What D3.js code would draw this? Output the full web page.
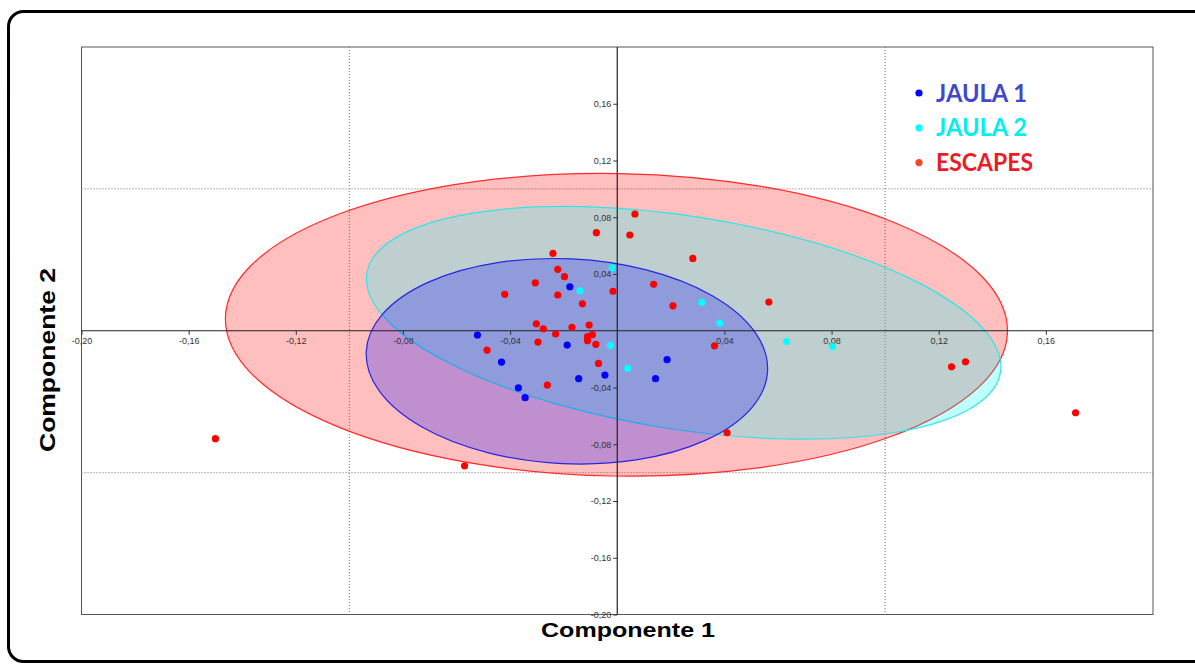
<!DOCTYPE html>
<html>
<head>
<meta charset="utf-8">
<script src="https://cdnjs.cloudflare.com/ajax/libs/d3/7.8.5/d3.min.js"></script>
<style>
body{margin:0;background:#fff;}
</style>
</head>
<body>
<script>
//dims
const width = 1195, height = 664;

//tick values, same on both axes (0 and 0.20 are not labelled)
const tickValues = [-0.20, -0.16, -0.12, -0.08, -0.04, 0.04, 0.08, 0.12, 0.16];
const gridValues = [-0.10, 0.10];

//scores per group: [componente 1, componente 2]
const jaula1 = [
	[-0.0177, 0.0310], [-0.0522, -0.0030], [-0.0187, -0.0101], [-0.0432, -0.0221], [0.0186, -0.0204],
	[-0.0046, -0.0312], [-0.0144, -0.0338], [0.0143, -0.0338], [-0.0369, -0.0402], [-0.0344, -0.0472]
];
const jaula2 = [
	[-0.0019, 0.0444], [-0.0139, 0.0282], [0.0316, 0.0200], [0.0383, 0.0054],
	[0.0632, -0.0076], [-0.0025, -0.0103], [0.0039, -0.0265], [0.0804, -0.0113]
];
const escapes = [
	[0.0066, 0.0823], [-0.0078, 0.0691], [0.0047, 0.0675], [-0.0240, 0.0546], [0.0282, 0.0510],
	[-0.0222, 0.0433], [-0.0197, 0.0381], [-0.0306, 0.0338], [0.0136, 0.0327], [-0.0420, 0.0257],
	[-0.0222, 0.0252], [-0.0016, 0.0278], [-0.0130, 0.0190], [0.0208, 0.0176], [0.0566, 0.0202],
	[-0.0302, 0.0049], [-0.0276, 0.0014], [-0.0169, 0.0024], [-0.0105, 0.0040], [-0.0230, -0.0023],
	[-0.0093, -0.0028], [-0.0111, -0.0042], [-0.0111, -0.0070], [-0.0080, -0.0096], [-0.0296, -0.0080],
	[-0.0486, -0.0136], [-0.0070, -0.0230], [0.0363, -0.0106], [-0.0261, -0.0383], [0.0410, -0.0719],
	[0.1248, -0.0254], [0.1300, -0.0219], [0.1711, -0.0578], [-0.1500, -0.0761], [-0.0570, -0.0952]
];

//legend labels
const groupNames = ['JAULA 1', 'JAULA 2', 'ESCAPES'];

//confidence ellipses: [centre c1, centre c2, radius c1, radius c2, tilt in degrees]
const ellipseEscapes = [-0.0003, 0.0042, 0.1460, 0.1066, 1.0];
const ellipseJaula2  = [0.0248, 0.0056, 0.1197, 0.0752, 8.85];
const ellipseJaula1  = [-0.0188, -0.0215, 0.0750, 0.0722, 2.75];

// comma decimals, plain hyphen minus
const fmt = d3.formatLocale({decimal: ',', thousands: '.', grouping: [3], currency: ['', ''], minus: '-'}).format('.2f');

const svg = d3.select('body')
	.append('svg')
		.attr('width', width)
		.attr('height', height);
//bkg
svg.append('rect')
		.attr('width', width)
		.attr('height', height)
		.attr('fill', '#fff');
//rounded outer frame, right side runs off the picture
svg.append('rect')
		.attr('x', 8.5)
		.attr('y', 11.5)
		.attr('width', 1200)
		.attr('height', 650)
		.attr('rx', 15)
		.attr('ry', 15)
		.attr('fill', 'none')
		.attr('stroke', '#000')
		.attr('stroke-width', 3);

//scales
const x = d3.scaleLinear().domain([-0.2, 0.2]).range([81.5, 1153]);
const y = d3.scaleLinear().domain([-0.2, 0.2]).range([614.5, 47]);

//plot box
svg.append('rect')
		.attr('x', x(-0.2))
		.attr('y', y(0.2))
		.attr('width', x(0.2) - x(-0.2))
		.attr('height', y(-0.2) - y(0.2))
		.attr('fill', 'none')
		.attr('stroke', '#555')
		.attr('stroke-width', 1);

//dotted grid
const grid = svg.append('g')
		.attr('stroke', '#888')
		.attr('stroke-width', 1.2)
		.attr('stroke-dasharray', '1,2');
grid.selectAll('.gx')
		.data(gridValues)
	.enter().append('line')
		.attr('x1', d => x(d)).attr('x2', d => x(d))
		.attr('y1', y(0.2)).attr('y2', y(-0.2));
grid.selectAll('.gy')
		.data(gridValues)
	.enter().append('line')
		.attr('y1', d => y(d)).attr('y2', d => y(d))
		.attr('x1', x(-0.2)).attr('x2', x(0.2));

//ellipses, drawn back to front
const ellipseData = [
	{p: ellipseEscapes, fill: 'rgba(255,0,0,0.25)', stroke: '#ff2a2a'},
	{p: ellipseJaula2,  fill: 'rgba(0,255,255,0.25)', stroke: '#2ee6e6'},
	{p: ellipseJaula1,  fill: 'rgba(0,0,255,0.25)', stroke: '#2626e0'}
];
svg.selectAll('.ellipse')
		.data(ellipseData)
	.enter().append('ellipse')
		.attr('cx', d => x(d.p[0]))
		.attr('cy', d => y(d.p[1]))
		.attr('rx', d => x(d.p[2]) - x(0))
		.attr('ry', d => y(0) - y(d.p[3]))
		.attr('transform', d => `rotate(${d.p[4]},${x(d.p[0])},${y(d.p[1])})`)
		.attr('fill', d => d.fill)
		.attr('stroke', d => d.stroke)
		.attr('stroke-width', 1.2);

//axis lines through the origin
svg.append('line')
		.attr('x1', x(-0.2)).attr('x2', x(0.2))
		.attr('y1', y(0)).attr('y2', y(0))
		.attr('stroke', '#222').attr('stroke-width', 1.2);
svg.append('line')
		.attr('x1', x(0)).attr('x2', x(0))
		.attr('y1', y(0.2)).attr('y2', y(-0.2))
		.attr('stroke', '#222').attr('stroke-width', 1.2);

//ticks + labels
svg.append('g')
		.attr('transform', `translate(0,${y(0)})`)
		.call(d3.axisBottom(x).tickValues(tickValues).tickSize(4).tickPadding(3).tickFormat(fmt))
		.call(g => g.select('.domain').remove())
		.attr('color', '#333')
		.attr('font-family', 'Arial, "Liberation Sans", sans-serif')
		.attr('font-size', 9);
svg.append('g')
		.attr('transform', `translate(${x(0)},0)`)
		.call(d3.axisLeft(y).tickValues(tickValues).tickSize(4).tickPadding(2).tickFormat(fmt))
		.call(g => g.select('.domain').remove())
		.attr('color', '#333')
		.attr('font-family', 'Arial, "Liberation Sans", sans-serif')
		.attr('font-size', 9);

//points
const groups = [
	{data: escapes, color: '#ff0000'},
	{data: jaula1, color: '#0000ff'},
	{data: jaula2, color: '#00ffff'}
];
groups.forEach(grp => {
	svg.append('g').selectAll('circle')
			.data(grp.data)
		.enter().append('circle')
			.attr('cx', d => x(d[0]))
			.attr('cy', d => y(d[1]))
			.attr('r', 3.6)
			.attr('fill', grp.color);
});

//axis titles
svg.append('text')
		.attr('x', 628)
		.attr('y', 637)
		.attr('text-anchor', 'middle')
		.attr('font-family', 'Arial, "Liberation Sans", sans-serif')
		.attr('font-weight', 'bold')
		.attr('font-size', 21)
		.attr('textLength', 174)
		.attr('lengthAdjust', 'spacingAndGlyphs')
		.text('Componente 1');
svg.append('text')
		.attr('transform', 'translate(55,360) rotate(-90)')
		.attr('text-anchor', 'middle')
		.attr('font-family', 'Arial, "Liberation Sans", sans-serif')
		.attr('font-weight', 'bold')
		.attr('font-size', 22)
		.attr('textLength', 184)
		.attr('lengthAdjust', 'spacingAndGlyphs')
		.text('Componente 2');

//legend
const legendDot = ['#0000ff', '#00ffff', '#f04923'];
const legendText = ['#3f48cc', '#00f0f0', '#ed1c24'];
const legendLen = [91, 91, 97];
const legend = svg.append('g');
legend.selectAll('circle')
		.data(groupNames)
	.enter().append('circle')
		.attr('cx', 919)
		.attr('cy', (d, i) => 93 + i * 34.8)
		.attr('r', 3.6)
		.attr('fill', (d, i) => legendDot[i]);
legend.selectAll('text')
		.data(groupNames)
	.enter().append('text')
		.attr('x', 936)
		.attr('y', (d, i) => 101.7 + i * 34.7)
		.attr('font-family', 'Lato, "Open Sans", sans-serif')
		.attr('font-weight', 'bold')
		.attr('font-size', 25)
		.attr('textLength', (d, i) => legendLen[i])
		.attr('lengthAdjust', 'spacingAndGlyphs')
		.attr('fill', (d, i) => legendText[i])
		.text(d => d);
</script>
</body>
</html>
